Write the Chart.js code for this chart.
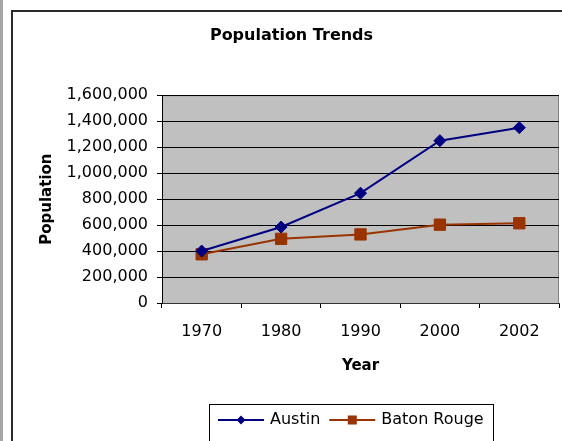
<!DOCTYPE html>
<html>
<head>
<meta charset="utf-8">
<title>Population Trends</title>
<script src="https://cdn.jsdelivr.net/npm/chart.js@4.4.1/dist/chart.umd.min.js"></script>
<style>
  html, body { margin: 0; padding: 0; background: #fff; }
  #wrap { position: relative; width: 562px; height: 441px; overflow: hidden; }
  #strip { position: absolute; left: 0; top: 0; width: 3px; height: 441px; background: #a6a6a6; }
  #frame { position: absolute; left: 11px; top: 10px; width: 620px; height: 500px; border: 2px solid #2a2a2a; box-sizing: border-box; pointer-events: none; }
  canvas { position: absolute; left: 0; top: 0; }
</style>
</head>
<body>
<div id="wrap">
  <div id="strip"></div>
  <canvas id="popChart" width="562" height="441"></canvas>
  <div id="frame"></div>
</div>
<script>
// Data
const years = ['1970', '1980', '1990', '2000', '2002'];
const austin = [400000, 585000, 846000, 1250000, 1350000];
const batonRouge = [375000, 494000, 528000, 603000, 614000];
const yMax = 1600000;
const yStep = 200000;

Chart.defaults.font.family = '"DejaVu Sans", sans-serif';
Chart.defaults.color = '#000';

// grey plot area like the old Excel default
const plotBackground = {
  id: 'plotBackground',
  beforeDraw(chart) {
    const { ctx, chartArea: a } = chart;
    ctx.save();
    ctx.fillStyle = '#c0c0c0';
    ctx.fillRect(a.left, a.top, a.right - a.left, a.bottom - a.top);
    ctx.strokeStyle = '#808080';
    ctx.lineWidth = 1;
    ctx.beginPath();
    ctx.moveTo(a.left, a.top + 0.5);
    ctx.lineTo(a.right - 0.5, a.top + 0.5);
    ctx.lineTo(a.right - 0.5, a.bottom);
    ctx.stroke();
    ctx.restore();
  }
};

// legend with line + marker, boxed, below the axis title
const lineLegend = {
  id: 'lineLegend',
  afterDraw(chart) {
    const { ctx } = chart;
    const lineLen = 46, padX = 9, textGap = 6, itemGap = 9;
    ctx.save();
    ctx.font = '16px "DejaVu Sans", sans-serif';
    const items = chart.data.datasets.map(ds => ({ ds, w: ctx.measureText(ds.label).width }));
    const boxW = padX * 2 + items.reduce((s, it) => s + lineLen + textGap + it.w, 0) + itemGap * (items.length - 1);
    const left = 209;
    const top = 404;
    ctx.fillStyle = '#fff';
    ctx.fillRect(left, top, boxW, 60);
    ctx.strokeStyle = '#000';
    ctx.lineWidth = 1;
    ctx.strokeRect(left + 0.5, top + 0.5, Math.round(boxW), 60);

    let x = left + padX;
    const y = top + 16;
    items.forEach(({ ds, w }) => {
      ctx.strokeStyle = ds.borderColor;
      ctx.lineWidth = 2;
      ctx.beginPath();
      ctx.moveTo(x, y);
      ctx.lineTo(x + lineLen, y);
      ctx.stroke();

      const cx = x + lineLen / 2;
      ctx.fillStyle = ds.borderColor;
      ctx.beginPath();
      if (ds.pointStyle === 'rectRot') {
        const r = 4.5;
        ctx.moveTo(cx - r, y);
        ctx.lineTo(cx, y - r);
        ctx.lineTo(cx + r, y);
        ctx.lineTo(cx, y + r);
        ctx.closePath();
      } else {
        ctx.rect(cx - 4.5, y - 4.5, 9, 9);
      }
      ctx.fill();

      ctx.fillStyle = '#000';
      ctx.textBaseline = 'middle';
      ctx.textAlign = 'left';
      ctx.fillText(ds.label, x + lineLen + textGap, y);
      x += lineLen + textGap + w + itemGap;
    });
    ctx.restore();
  }
};

new Chart(document.getElementById('popChart').getContext('2d'), {
  type: 'line',
  data: {
    labels: years,
    datasets: [
      {
        label: 'Austin',
        data: austin,
        borderColor: '#000080',
        backgroundColor: '#000080',
        pointBackgroundColor: '#000080',
        pointBorderColor: '#000080',
        borderWidth: 2,
        pointStyle: 'rectRot',
        pointRadius: 6,
        pointBorderWidth: 1,
        tension: 0,
        fill: false
      },
      {
        label: 'Baton Rouge',
        data: batonRouge,
        borderColor: '#993300',
        backgroundColor: '#993300',
        pointBackgroundColor: '#993300',
        pointBorderColor: '#993300',
        borderWidth: 2,
        pointStyle: 'rect',
        pointRadius: 8,
        pointBorderWidth: 1,
        tension: 0,
        fill: false
      }
    ]
  },
  options: {
    responsive: false,
    animation: false,
    layout: {
      autoPadding: false,
      padding: { left: 24, right: 3, top: 0, bottom: 0 }
    },
    plugins: {
      legend: { display: false },
      tooltip: { enabled: false },
      title: {
        display: true,
        text: 'Population Trends',
        font: { size: 16, weight: 'bold' },
        color: '#000',
        padding: { top: 26, bottom: 50 }
      }
    },
    scales: {
      x: {
        offset: true,
        afterFit: scale => {
          scale.height = 138;
          scale.paddingLeft = 0;
          scale.paddingRight = 0;
        },
        grid: {
          offset: true,
          drawOnChartArea: false,
          tickLength: 5,
          tickColor: '#000'
        },
        border: { color: '#333', width: 1 },
        ticks: {
          font: { size: 16 },
          color: '#000',
          padding: 14,
          maxRotation: 0
        },
        title: {
          display: true,
          text: 'Year',
          font: { size: 15, weight: 'bold' },
          color: '#000',
          padding: { top: 0, bottom: 66 }
        }
      },
      y: {
        min: 0,
        max: yMax,
        afterFit: scale => { scale.width = 138; },
        grid: {
          color: '#000',
          lineWidth: 1,
          tickLength: 5,
          tickColor: '#000'
        },
        border: { color: '#000', width: 1 },
        ticks: {
          stepSize: yStep,
          font: { size: 16 },
          color: '#000',
          padding: 9,
          callback: v => v.toLocaleString('en-US')
        },
        title: {
          display: true,
          text: 'Population',
          font: { size: 15, weight: 'bold' },
          color: '#000',
          padding: { top: 14, bottom: 0 }
        }
      }
    }
  },
  plugins: [plotBackground, lineLegend]
});
</script>
</body>
</html>
